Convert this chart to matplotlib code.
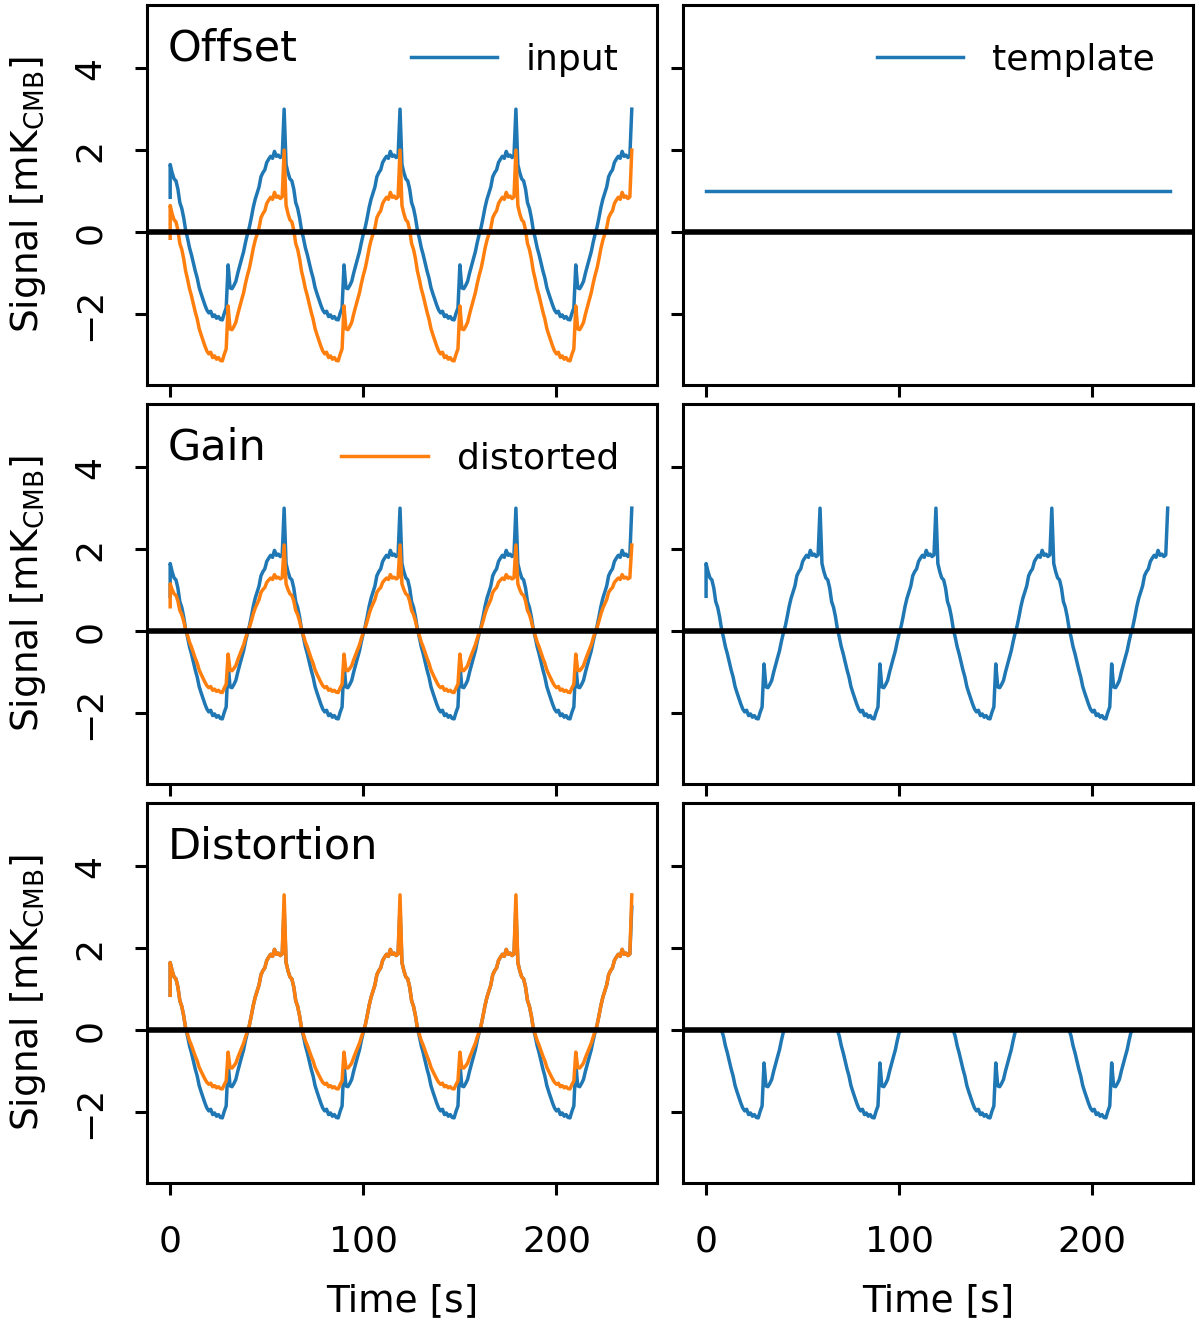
import matplotlib
matplotlib.use("Agg")
import matplotlib.pyplot as plt  # For plotting
import numpy as np  # For arrays

plt.rcParams['font.family'] = ['DejaVu Sans']
plt.rcParams['mathtext.fontset'] = 'dejavusans'

## Data

# One period (60 s) of the input signal, sampled every second
period_time = np.arange(0, 60)
period_input = [1.65, 1.45, 1.30, 1.25, 1.05, 0.72, 0.58, 0.35, 0.05, -0.15,
                -0.38, -0.55, -0.75, -0.95, -1.12, -1.35, -1.50, -1.64, -1.78, -1.90,
                -1.97, -1.93, -2.06, -2.02, -2.10, -2.06, -2.13, -2.14, -1.98, -1.85,
                -0.80, -1.36, -1.38, -1.30, -1.20, -1.00, -0.82, -0.65, -0.48, -0.25,
                -0.05, 0.12, 0.35, 0.60, 0.80, 0.95, 1.10, 1.35, 1.45, 1.52,
                1.70, 1.78, 1.85, 1.80, 1.97, 1.85, 1.88, 1.82, 1.86, 3.00]
n_periods = 4
first_sample = 0.85  # first point of the record, before the jump

offset_value = 1.0   # offset subtracted in the "Offset" case
gain_value = 0.7     # gain in the "Gain" case
neg_scale = 0.67     # distortion: negative part is squeezed
pos_boost = 0.3      # distortion: values above 2 are stretched

row_names = ["Offset", "Gain", "Distortion"]
y_ticks = [-2, 0, 2, 4]
x_ticks = [0, 100, 200]

# Build the full time stream
time = np.concatenate([[0.0]] + [period_time + 60 * k for k in range(n_periods)])
signal = np.concatenate([[first_sample]] + [period_input] * n_periods)

# Distorted versions and templates
dist_offset = signal - offset_value
dist_gain = gain_value * signal
dist_nonlin = np.where(signal < 0, neg_scale * signal,
                       signal + pos_boost * np.clip(signal - 2, 0, None))

templ_offset = np.full(2, offset_value)
templ_time = np.array([0.0, 240.0])
templ_gain = signal
templ_nonlin = np.minimum(signal, 0)  # only the negative part

blue = '#1f77b4'
orange = '#ff7f0e'

## Plot
fig, axes = plt.subplots(3, 2, figsize=(6, 6.63), sharex=True, sharey=True)
plt.subplots_adjust(left=0.1225, right=0.994, bottom=0.1078, top=0.9962,
                    wspace=0.051, hspace=0.05)

distorted = [dist_offset, dist_gain, dist_nonlin]
for i in range(3):
    ax = axes[i, 0]
    ax.plot(time, signal, color=blue, lw=1.25, label='input')
    ax.plot(time, distorted[i], color=orange, lw=1.25, label='distorted')
    ax.text(0.04, 0.94, row_names[i], transform=ax.transAxes, fontsize=15.5,
            va='top', ha='left')
    ax.set_ylabel(r'Signal [mK$_\mathrm{CMB}$]', fontsize=13.5, labelpad=9)

# Templates on the right
axes[0, 1].plot(templ_time, templ_offset, color=blue, lw=1.25, label='template')
axes[1, 1].plot(time, templ_gain, color=blue, lw=1.25)
axes[2, 1].plot(time, templ_nonlin, color=blue, lw=1.25)

# Legends (one entry per panel)
h, l = axes[0, 0].get_legend_handles_labels()
leg_kw = dict(loc='upper right', frameon=False, fontsize=13,
              handlelength=2.4, borderaxespad=0.65)
axes[0, 0].legend([h[0]], [l[0]], **leg_kw)
axes[1, 0].legend([h[1]], [l[1]], **leg_kw)
axes[0, 1].legend(**leg_kw)

for ax in axes.flat:
    ax.axhline(0, color='black', lw=2.0, zorder=5)
    ax.set_xlim(-12, 252)
    ax.set_ylim(-3.73, 5.54)
    ax.set_yticks(y_ticks)
    ax.set_xticks(x_ticks)
    ax.tick_params(labelsize=13, width=1.1, length=4.3)
    ax.tick_params(axis='y', labelrotation=90, pad=10)
    ax.tick_params(axis='x', pad=10.5)
    for s in ax.spines.values():
        s.set_linewidth(1.1)
    for lab in ax.get_yticklabels():
        lab.set_va('center')

for ax in axes[2, :]:
    ax.set_xlabel('Time [s]', fontsize=13.5, labelpad=9)

fig.savefig('out.png', dpi=200)
